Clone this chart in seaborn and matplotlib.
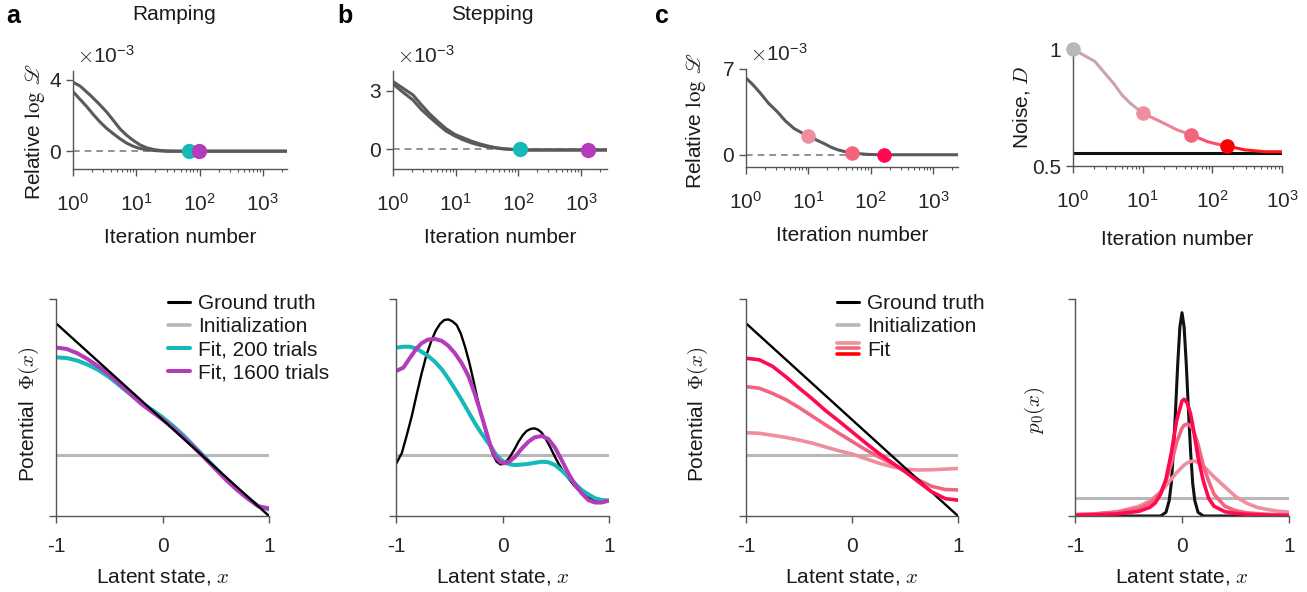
import numpy as np
import matplotlib
matplotlib.use("Agg")
import matplotlib.pyplot as plt
import seaborn as sns
from matplotlib.ticker import FixedLocator, FuncFormatter, LogLocator, NullFormatter
from matplotlib.legend_handler import HandlerBase
from matplotlib.lines import Line2D

# ---------------- data ----------------
# top row: relative log-likelihood (units of 1e-3) vs iteration
ramp_it_a = [1, 1.3, 1.86, 2.5, 3.4, 4.4, 5.5, 7, 9, 11.5, 14.6, 19, 24, 30, 38, 100, 2400]
ramp_ll_a = [3.87, 3.65, 3.15, 2.7, 2.2, 1.7, 1.26, 0.9, 0.6, 0.35, 0.19, 0.09, 0.04, 0.015, 0.0, 0.0, 0.0]
ramp_it_b = [1, 1.3, 1.65, 2.1, 2.67, 3.4, 4.34, 5.5, 7.05, 9, 11.4, 14.6, 18.6, 24, 30, 100, 2400]
ramp_ll_b = [3.34, 2.9, 2.5, 2.05, 1.64, 1.28, 0.98, 0.7, 0.45, 0.27, 0.15, 0.08, 0.04, 0.015, 0.0, 0.0, 0.0]
ramp_dots_it = [68, 98]
ramp_dots_ll = [0.0, 0.0]

step_it = [1, 1.4, 2.08, 2.8, 3.8, 5.2, 7, 9.5, 12.9, 17.5, 23.7, 32, 43.6, 60, 80, 150, 2600]
step_ll_a = [3.46, 3.15, 2.78, 2.3, 1.83, 1.42, 1.06, 0.78, 0.6, 0.43, 0.29, 0.18, 0.09, 0.03, 0.0, -0.03, -0.03]
step_ll_b = [3.34, 2.95, 2.52, 2.05, 1.66, 1.28, 0.94, 0.7, 0.5, 0.34, 0.22, 0.13, 0.07, 0.02, 0.0, -0.03, -0.03]
step_dots_it = [107, 1300]
step_dots_ll = [0.0, -0.05]

pop_it = [1, 1.3, 1.7, 2.3, 3.16, 4.3, 5.9, 7.8, 10.2, 13.5, 17.9, 23, 29.3, 38, 51, 68, 89, 120, 166, 2500]
pop_ll = [6.26, 5.7, 5.03, 4.2, 3.52, 2.75, 2.14, 1.8, 1.54, 1.2, 0.91, 0.62, 0.41, 0.26, 0.16, 0.08, 0.03, 0.01, 0.0, 0.0]
pop_dots_it = [10, 50, 160]
pop_dots_ll = [1.55, 0.18, 0.0]

noise_it = [1, 1.4, 2.06, 2.8, 3.8, 5, 6.6, 10, 13, 18, 31.5, 50, 85, 120, 163, 290, 570, 1000]
noise_D = [1.0, 0.975, 0.947, 0.9, 0.854, 0.805, 0.769, 0.726, 0.71, 0.69, 0.654, 0.633, 0.604, 0.593, 0.586, 0.569, 0.561, 0.561]
noise_true = 0.557
noise_dots_it = [1, 10, 50, 163]
noise_dots_D = [1.0, 0.726, 0.633, 0.586]

# bottom row: potentials / initial distribution (arbitrary units, 0..1)
x_lin = [-1, 1]
ramp_true = [0.888, 0.0]
init_level = 0.283
x_ramp = [-1, -0.9, -0.8, -0.7, -0.6, -0.5, -0.4, -0.3, -0.2, -0.1, 0, 0.1, 0.2, 0.3, 0.4, 0.5, 0.6, 0.7, 0.8, 0.9, 1.0]
ramp_fit200 = [0.731, 0.728, 0.716, 0.697, 0.672, 0.64, 0.6, 0.56, 0.52, 0.49, 0.455, 0.415, 0.37, 0.32, 0.27, 0.22, 0.17, 0.125, 0.085, 0.045, 0.03]
ramp_fit1600 = [0.776, 0.77, 0.75, 0.722, 0.688, 0.652, 0.607, 0.562, 0.517, 0.48, 0.445, 0.405, 0.36, 0.315, 0.265, 0.215, 0.165, 0.12, 0.08, 0.045, 0.035]

x_step_true = [-1, -0.946, -0.9, -0.853, -0.806, -0.759, -0.712, -0.665, -0.626, -0.587, -0.548, -0.509, -0.47, -0.43,
               -0.391, -0.352, -0.313, -0.274, -0.235, -0.195, -0.156, -0.117, -0.085, -0.054, -0.02, 0.009, 0.04, 0.07,
               0.11, 0.15, 0.19, 0.227, 0.263, 0.299, 0.333, 0.368, 0.407, 0.446, 0.485, 0.524, 0.571, 0.618, 0.665,
               0.712, 0.758, 0.805, 0.852, 0.899, 0.95, 1.0]
step_true = [0.24, 0.289, 0.37, 0.458, 0.56, 0.658, 0.745, 0.811, 0.855, 0.885, 0.903, 0.906, 0.897, 0.88,
             0.84, 0.78, 0.71, 0.627, 0.54, 0.458, 0.385, 0.319, 0.278, 0.25, 0.238, 0.24, 0.254, 0.273,
             0.305, 0.342, 0.372, 0.392, 0.401, 0.404, 0.398, 0.384, 0.355, 0.319, 0.28, 0.243, 0.205, 0.174, 0.145,
             0.12, 0.1, 0.086, 0.076, 0.071, 0.07, 0.071]
x_step_fit = [-1, -0.93, -0.87, -0.81, -0.76, -0.7, -0.635, -0.57, -0.51, -0.45, -0.384, -0.32, -0.258, -0.21, -0.165,
              -0.117, -0.07, -0.02, 0.024, 0.07, 0.118, 0.18, 0.243, 0.3, 0.368, 0.43, 0.493, 0.555, 0.618, 0.68,
              0.743, 0.805, 0.868, 0.93, 1.0]
step_fit200 = [0.776, 0.78, 0.78, 0.772, 0.757, 0.738, 0.711, 0.676, 0.634, 0.588, 0.535, 0.48, 0.427, 0.39, 0.358,
               0.325, 0.289, 0.262, 0.246, 0.238, 0.235, 0.237, 0.24, 0.245, 0.25, 0.248, 0.235, 0.21, 0.181, 0.15,
               0.12, 0.1, 0.082, 0.074, 0.071]
step_fit1600 = [0.668, 0.684, 0.728, 0.77, 0.796, 0.813, 0.816, 0.807, 0.785, 0.752, 0.705, 0.645, 0.56, 0.485, 0.41,
                0.33, 0.275, 0.248, 0.243, 0.253, 0.273, 0.31, 0.342, 0.362, 0.369, 0.355, 0.315, 0.258, 0.197, 0.145,
                0.105, 0.074, 0.062, 0.062, 0.071]

x_pop = [-1, -0.875, -0.75, -0.62, -0.5, -0.375, -0.25, -0.12, 0.0, 0.13, 0.25, 0.38, 0.5, 0.62, 0.75, 0.88, 1.0]
pop_fit1 = [0.384, 0.381, 0.372, 0.362, 0.35, 0.336, 0.318, 0.3, 0.286, 0.264, 0.244, 0.227, 0.216, 0.212, 0.213, 0.216, 0.219]
pop_fit2 = [0.596, 0.589, 0.565, 0.535, 0.5, 0.46, 0.42, 0.38, 0.344, 0.305, 0.273, 0.24, 0.205, 0.168, 0.137, 0.122, 0.12]
pop_fit3 = [0.727, 0.72, 0.69, 0.64, 0.59, 0.54, 0.486, 0.436, 0.388, 0.336, 0.29, 0.245, 0.205, 0.16, 0.112, 0.08, 0.073]

x_p0_true = [-1, -0.2, -0.15, -0.12, -0.1, -0.08, -0.06, -0.04, -0.02, 0, 0.02, 0.04, 0.06, 0.08, 0.1, 0.12, 0.15, 0.2, 1]
p0_true = [0.0, 0.0, 0.017, 0.07, 0.15, 0.3, 0.49, 0.7, 0.87, 0.937, 0.87, 0.7, 0.49, 0.3, 0.15, 0.07, 0.017, 0.0, 0.0]
p0_init = 0.082
x_p0_fit = [-1, -0.8, -0.6, -0.4, -0.3, -0.25, -0.2, -0.15, -0.1, -0.05, 0, 0.02, 0.05, 0.08, 0.1, 0.12, 0.15,
            0.2, 0.25, 0.3, 0.4, 0.5, 0.6, 0.7, 0.8, 0.9, 1.0]
p0_fit1 = [0.006, 0.01, 0.02, 0.045, 0.07, 0.09, 0.11, 0.14, 0.17, 0.2, 0.225, 0.235, 0.245, 0.251, 0.253, 0.252, 0.247,
           0.23, 0.205, 0.18, 0.135, 0.09, 0.06, 0.04, 0.03, 0.022, 0.018]
p0_fit2 = [0.006, 0.01, 0.018, 0.035, 0.06, 0.08, 0.11, 0.16, 0.24, 0.34, 0.405, 0.418, 0.424, 0.415, 0.4, 0.375, 0.33,
           0.23, 0.16, 0.1, 0.045, 0.025, 0.015, 0.011, 0.008, 0.006, 0.005]
p0_fit3 = [0.004, 0.006, 0.01, 0.022, 0.04, 0.06, 0.1, 0.17, 0.29, 0.44, 0.53, 0.538, 0.52, 0.47, 0.42, 0.36, 0.27,
           0.16, 0.08, 0.045, 0.02, 0.012, 0.008, 0.006, 0.004, 0.003, 0.003]

# ---------------- style ----------------
sns.set_style("ticks")
plt.rcParams["font.family"] = ["Liberation Sans", "DejaVu Sans"]
plt.rcParams["mathtext.fontset"] = "cm"
plt.rcParams["axes.edgecolor"] = "#555555"
plt.rcParams["axes.linewidth"] = 1.0

GRAY_CURVE = "#5a5a5a"
CYAN = "#16b8b8"
MAGENTA = "#b43cba"
INIT = "#b8b8b8"
PINK1 = "#ee8e9e"
PINK2 = "#f2657f"
PINK3 = "#ff0a50"
RED = "#ff0000"
TXT = "#1a1a1a"
FS = 15

W, H = 1307, 592
fig = plt.figure(figsize=(W / 100, H / 100), dpi=100)


def px_axes(l, t, r, b):
    return fig.add_axes([l / W, 1 - b / H, (r - l) / W, (b - t) / H])


def style_axes(ax):
    sns.despine(ax=ax)
    ax.tick_params(which="major", direction="out", length=5, width=1, color="#555555",
                   labelcolor="#262626", labelsize=FS)
    ax.tick_params(which="minor", direction="out", length=2.5, width=0.8, color="#555555")


def log_xaxis(ax, xmax):
    ax.set_xscale("log")
    ax.set_xlim(1, xmax)
    ax.xaxis.set_major_locator(FixedLocator([1, 10, 100, 1000]))
    ax.xaxis.set_major_formatter(FuncFormatter(lambda v, p: r"$\mathregular{10^{%d}}$" % round(np.log10(v))))
    ax.xaxis.set_minor_locator(LogLocator(base=10, subs=np.arange(2, 10), numticks=20))
    ax.xaxis.set_minor_formatter(NullFormatter())
    ax.tick_params(axis="x", which="major", pad=12)
    ax.set_xlabel("Iteration number", fontsize=FS, color=TXT)


def latent_axes(ax):
    ax.set_xlim(-1, 1)
    ax.set_ylim(0, 1)
    ax.set_xticks([-1, 0, 1])
    ax.set_xticklabels(["-1", "0", "1"])
    ax.set_yticks([0, 1])
    ax.set_yticklabels([])
    ax.tick_params(axis="x", pad=10)
    ax.set_xlabel(r"Latent state, $x$", fontsize=FS, color=TXT)
    ax.xaxis.set_label_coords(0.5, -0.235)


def line(ax, x, y, color, lw, **kw):
    sns.lineplot(x=x, y=y, color=color, lw=lw, ax=ax, estimator=None, sort=False, **kw)


def dots(ax, x, y, colors, size=10.5):
    for xi, yi, c in zip(x, y, colors):
        ax.plot([xi], [yi], "o", ms=size, color=c, mec="none", clip_on=False, zorder=5)


def zero_line(ax, xmax):
    ax.plot([1, xmax], [0, 0], ls=(0, (4, 3)), color="#808080", lw=1.2, zorder=1)


def rel_ll_label(ax, xc, yc):
    ax.set_ylabel(r"Relative $\log\ \mathscr{L}$", fontsize=FS, color=TXT, math_fontfamily="stix")
    ax.yaxis.set_label_coords(xc, yc)


def offset_text(ax):
    ax.text(0.02, 1.04, r"$\times\mathregular{10^{-3}}$", transform=ax.transAxes,
            fontsize=FS, color="#262626", ha="left", va="bottom")


class FitStack:
    def __init__(self, colors):
        self.colors = colors


class HandlerFitStack(HandlerBase):
    def create_artists(self, legend, orig_handle, xdescent, ydescent, width, height, fontsize, trans):
        arts = []
        y0 = (height - ydescent) / 2
        for i, c in enumerate(orig_handle.colors):
            y = y0 + (1 - i) * 4.0
            ln = Line2D([-xdescent, width - xdescent], [y, y], color=c, lw=2.6)
            ln.set_transform(trans)
            arts.append(ln)
        return arts


# ---------------- panel a (top) ----------------
ax = px_axes(73, 71, 287, 169)
style_axes(ax)
zero_line(ax, 2400)
line(ax, ramp_it_a, ramp_ll_a, GRAY_CURVE, 2.2)
line(ax, ramp_it_b, ramp_ll_b, GRAY_CURVE, 2.2)
dots(ax, ramp_dots_it, ramp_dots_ll, [CYAN, MAGENTA], 11)
log_xaxis(ax, 2400)
ax.set_ylim(-1, 4.5)
ax.set_yticks([0, 4])
ax.xaxis.set_label_coords(0.5, -0.6)
rel_ll_label(ax, -0.12, 0.38)
offset_text(ax)

# ---------------- panel b (top) ----------------
ax = px_axes(393, 71, 607, 169)
style_axes(ax)
zero_line(ax, 2600)
line(ax, step_it, step_ll_a, GRAY_CURVE, 2.2)
line(ax, step_it, step_ll_b, GRAY_CURVE, 2.2)
dots(ax, step_dots_it, step_dots_ll, [CYAN, MAGENTA], 11)
log_xaxis(ax, 2600)
ax.set_ylim(-1, 4)
ax.set_yticks([0, 3])
ax.xaxis.set_label_coords(0.5, -0.6)
offset_text(ax)

# ---------------- panel c (top left) ----------------
ax = px_axes(746, 69, 958, 167)
style_axes(ax)
zero_line(ax, 2500)
line(ax, pop_it, pop_ll, GRAY_CURVE, 2.2)
dots(ax, pop_dots_it, pop_dots_ll, [PINK1, PINK2, PINK3], 10.5)
log_xaxis(ax, 2500)
ax.set_ylim(-1, 7)
ax.set_yticks([0, 7])
ax.xaxis.set_label_coords(0.5, -0.6)
rel_ll_label(ax, -0.18, 0.47)
offset_text(ax)

# ---------------- panel c (top right) ----------------
ax = px_axes(1073, 49, 1282, 166)
style_axes(ax)
line(ax, [1, 1000], [noise_true, noise_true], "#111111", 2.2)
seg_bounds = [0, noise_it.index(10), noise_it.index(50), noise_it.index(163), len(noise_it) - 1]
seg_cols = ["#c9a3b3", "#ee8296", "#f7506a", "#ff1a1a"]
for k in range(4):
    i0, i1 = seg_bounds[k], seg_bounds[k + 1]
    line(ax, noise_it[i0:i1 + 1], noise_D[i0:i1 + 1], seg_cols[k], 2.2)
dots(ax, noise_dots_it, noise_dots_D, [INIT, PINK1, PINK2, RED], 10.5)
log_xaxis(ax, 1000)
ax.set_ylim(0.5, 1)
ax.set_yticks([0.5, 1])
ax.set_yticklabels(["0.5", "1"])
ax.xaxis.set_label_coords(0.5, -0.55)
ax.set_ylabel(r"Noise, $D$", fontsize=FS, color=TXT)
ax.yaxis.set_label_coords(-0.197, 0.5)

# ---------------- panel a (bottom) ----------------
ax = px_axes(56, 299, 269, 516)
style_axes(ax)
line(ax, x_lin, [init_level, init_level], INIT, 2.2, label="Initialization")
line(ax, x_ramp, ramp_fit200, CYAN, 2.9, label="Fit, 200 trials")
line(ax, x_ramp, ramp_fit1600, MAGENTA, 2.9, label="Fit, 1600 trials")
line(ax, x_lin, ramp_true, "#000000", 1.7, label="Ground truth")
latent_axes(ax)
ax.set_ylabel(r"Potential  $\Phi(x)$", fontsize=FS, color=TXT)
ax.yaxis.set_label_coords(-0.07, 0.47)
hs = [Line2D([], [], color="#000000", lw=2.2), Line2D([], [], color=INIT, lw=2.6),
      Line2D([], [], color=CYAN, lw=2.9), Line2D([], [], color=MAGENTA, lw=2.9)]
ax.legend(hs, ["Ground truth", "Initialization", "Fit, 200 trials", "Fit, 1600 trials"],
          loc="upper left", bbox_to_anchor=(0.526, 1.022), frameon=False, fontsize=FS,
          handlelength=1.05, handletextpad=0.4, labelspacing=0.2, borderpad=0, borderaxespad=0,
          labelcolor=TXT)

# ---------------- panel b (bottom) ----------------
ax = px_axes(396, 299, 609, 516)
style_axes(ax)
line(ax, x_lin, [init_level, init_level], INIT, 2.2)
line(ax, x_step_true, step_true, "#000000", 1.7)
line(ax, x_step_fit, step_fit200, CYAN, 2.9)
line(ax, x_step_fit, step_fit1600, MAGENTA, 2.9)
latent_axes(ax)

# ---------------- panel c (bottom left) ----------------
ax = px_axes(746, 299, 958, 516)
style_axes(ax)
line(ax, x_lin, [init_level, init_level], INIT, 2.2)
line(ax, x_pop, pop_fit1, PINK1, 2.6)
line(ax, x_pop, pop_fit2, PINK2, 2.6)
line(ax, x_lin, ramp_true, "#000000", 1.7)
line(ax, x_pop, pop_fit3, PINK3, 2.6)
latent_axes(ax)
ax.set_ylabel(r"Potential  $\Phi(x)$", fontsize=FS, color=TXT)
ax.yaxis.set_label_coords(-0.17, 0.47)
hs = [Line2D([], [], color="#000000", lw=2.2), Line2D([], [], color=INIT, lw=2.6),
      FitStack([PINK1, PINK2, RED])]
ax.legend(hs, ["Ground truth", "Initialization", "Fit"], handler_map={FitStack: HandlerFitStack()},
          loc="upper left", bbox_to_anchor=(0.43, 1.022), frameon=False, fontsize=FS,
          handlelength=1.05, handletextpad=0.4, labelspacing=0.2, borderpad=0, borderaxespad=0,
          labelcolor=TXT)

# ---------------- panel c (bottom right) ----------------
ax = px_axes(1075, 299, 1289, 516)
style_axes(ax)
line(ax, x_lin, [p0_init, p0_init], INIT, 2.2)
line(ax, x_p0_true, p0_true, "#111111", 2.2)
line(ax, x_p0_fit, p0_fit1, PINK1, 2.6)
line(ax, x_p0_fit, p0_fit2, PINK2, 2.6)
line(ax, x_p0_fit, p0_fit3, PINK3, 2.6)
latent_axes(ax)
ax.set_ylabel(r"$p_0(x)$", fontsize=FS, color=TXT)
ax.yaxis.set_label_coords(-0.133, 0.49)

# ---------------- panel letters / titles ----------------
for lx, lab in [(13, "a"), (345, "b"), (662, "c")]:
    fig.text(lx / W, 1 - 16 / H, lab, fontsize=18, fontweight="bold", ha="center", va="center", color="#000000")
fig.text(174 / W, 1 - 15 / H, "Ramping", fontsize=FS, ha="center", va="center", color=TXT)
fig.text(492 / W, 1 - 15 / H, "Stepping", fontsize=FS, ha="center", va="center", color=TXT)

fig.savefig("out.png", dpi=100)
